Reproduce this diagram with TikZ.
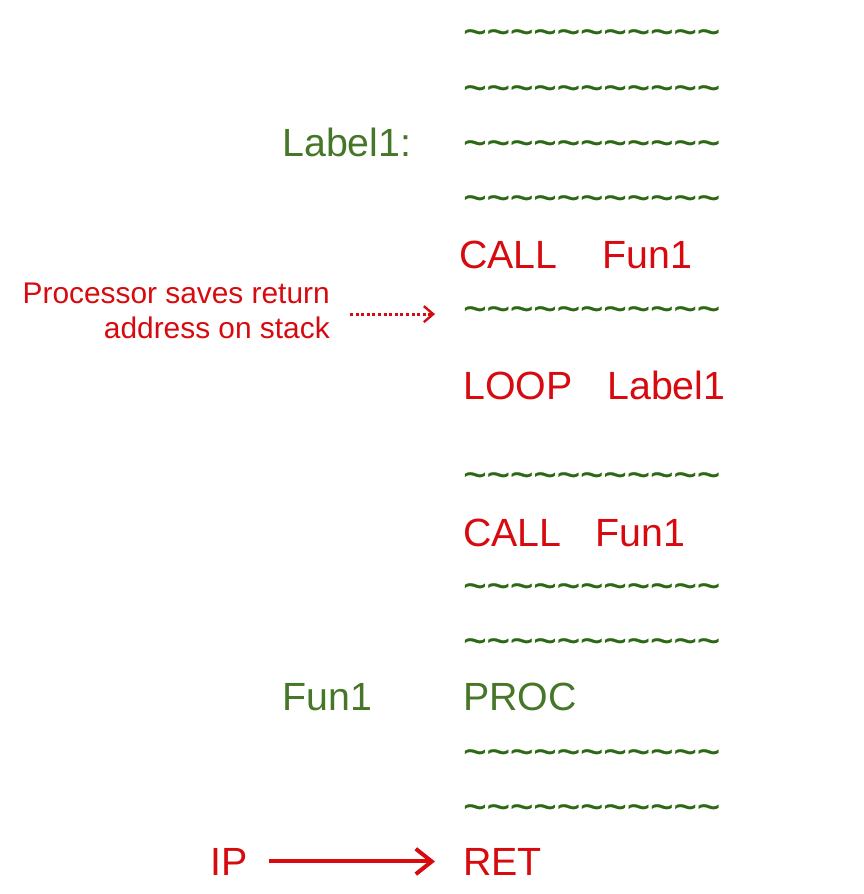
\documentclass[tikz,border=0pt]{standalone}
\usepackage{fontspec}
\setmainfont{Liberation Sans}
\newfontfamily\wavefont[FakeBold=0.4]{Liberation Sans}
\usetikzlibrary{arrows.meta}

\definecolor{codered}{RGB}{215,10,15}
\definecolor{codegreen}{RGB}{70,118,40}
\definecolor{wavegreen}{RGB}{45,105,20}

\newcommand{\waverow}{\textasciitilde\textasciitilde\textasciitilde\textasciitilde
  \textasciitilde\textasciitilde\textasciitilde\textasciitilde\textasciitilde
  \textasciitilde\textasciitilde}

\begin{document}
\begin{tikzpicture}[
  x=0.75pt,
  y=-0.75pt,
  codeline/.style={
    anchor=base west,
    inner sep=0pt,
    font=\fontsize{29.5}{35}\selectfont
  },
  greenline/.style={
    codeline,
    text=codegreen
  },
  redline/.style={
    codeline,
    text=codered
  },
  waves/.style={
    codeline,
    text=wavegreen,
    font=\wavefont\fontsize{30}{35}\selectfont
  },
  note/.style={
    align=right,
    text=codered,
    inner sep=0pt,
    font=\fontsize{22.4}{26.5}\selectfont
  },
  pointer/.style={
    draw=codered,
    line width=3pt,
    -{Straight Barb[length=12pt,width=19pt,line width=3pt]}
  },
  dotpointer/.style={
    draw=codered,
    line width=2.2pt,
    dotted,
    -{Straight Barb[length=7pt,width=12pt,line width=1.8pt]}
  }]
  \useasboundingbox (0,0) rectangle (864,894);
  % code column
  \node [waves] (w1) at (463,45) {\waverow};
  \node [waves] (w2) at (463,101) {\waverow};
  \node [waves] (w3) at (463,156) {\waverow};
  \node [waves] (w4) at (463,211) {\waverow};
  \node [redline] (call1) at (459,268) {CALL};
  \node [redline] (fun1a) at (602,268) {Fun1};
  \node [waves] (w5) at (463,322) {\waverow};
  \node [redline] (loop) at (463,399) {LOOP};
  \node [redline] (label1b) at (607,399) {Label1};
  \node [waves] (w6) at (463,488) {\waverow};
  \node [redline] (call2) at (463,546) {CALL};
  \node [redline] (fun1b) at (595,546) {Fun1};
  \node [waves] (w7) at (463,599) {\waverow};
  \node [waves] (w8) at (463,654) {\waverow};
  \node [greenline] (proc) at (463,710) {PROC};
  \node [waves] (w9) at (463,765) {\waverow};
  \node [waves] (w10) at (463,820) {\waverow};
  \node [redline] (ret) at (463,875) {RET};
  % labels
  \node [greenline] (label1) at (282,156) {Label1:};
  \node [greenline] (fun1) at (282,710) {Fun1};
  \node [redline] (ip) at (210,875) {IP};
  \node [note, anchor=east] (save) at (330,311) {Processor saves return\\address on stack};
  % arrows
  \draw [dotpointer, shorten <=15pt, shorten >=21pt] (save.east |- w5.west) -- (w5.west);
  \draw [pointer, shorten <=16pt, shorten >=21pt] (ip.east) -- (ret.west);
\end{tikzpicture}
\end{document}
